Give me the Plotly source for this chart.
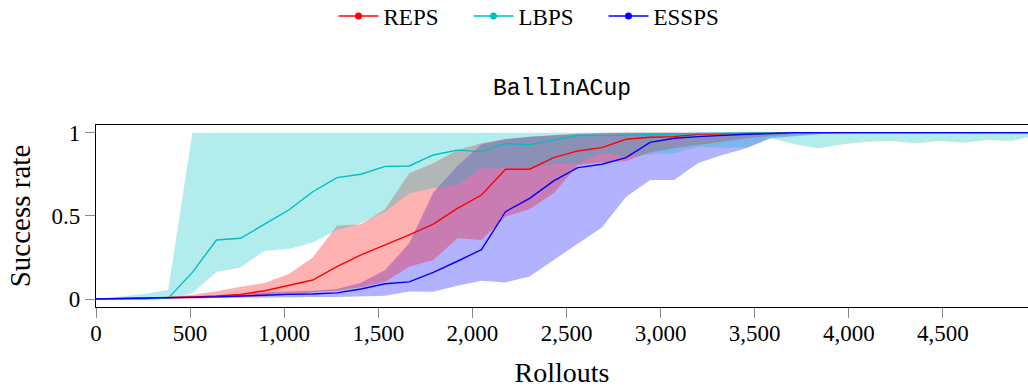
import plotly.graph_objects as go

step = 128
n_points = 40
rollouts = [step * i for i in range(n_points)]

reps_mean = [0, 0.002, 0.004, 0.008, 0.012, 0.018, 0.028, 0.05, 0.08, 0.114,
             0.195, 0.265, 0.325, 0.385, 0.45, 0.545, 0.625, 0.78, 0.78, 0.85,
             0.89, 0.91, 0.96, 0.972, 0.976, 0.99, 0.993, 0.996, 0.998, 1.0,
             1.0, 1.0, 1.0, 1.0, 1.0, 1.0, 1.0, 1.0, 1.0, 1.0]
reps_upper = [0, 0.004, 0.008, 0.012, 0.025, 0.046, 0.074, 0.096, 0.15, 0.25,
              0.44, 0.45, 0.54, 0.756, 0.816, 0.896, 0.936, 0.962, 0.976, 0.986,
              0.995, 1.0, 1.0, 1.0, 1.0, 1.0, 1.0, 1.0, 1.0, 1.0,
              1.0, 1.0, 1.0, 1.0, 1.0, 1.0, 1.0, 1.0, 1.0, 1.0]
reps_lower = [0, 0, 0, 0, 0.002, 0.005, 0.01, 0.015, 0.025, 0.04,
              0.05, 0.07, 0.104, 0.194, 0.234, 0.365, 0.355, 0.495, 0.541, 0.636,
              0.806, 0.82, 0.83, 0.88, 0.906, 0.926, 0.945, 0.966, 0.976, 0.99,
              1.0, 1.0, 1.0, 1.0, 1.0, 1.0, 1.0, 1.0, 1.0, 1.0]

lbps_mean = [0, 0, 0, 0.005, 0.16, 0.355, 0.365, 0.45, 0.535, 0.645,
             0.73, 0.75, 0.797, 0.80, 0.866, 0.895, 0.886, 0.934, 0.928, 0.955,
             0.984, 0.982, 0.986, 0.99, 0.993, 0.995, 0.997, 0.998, 1.0, 1.0,
             1.0, 1.0, 1.0, 1.0, 1.0, 1.0, 1.0, 1.0, 1.0, 1.0]
lbps_upper = [0, 0.015, 0.03, 0.054, 1.0, 1.0, 1.0, 1.0, 1.0, 1.0,
              1.0, 1.0, 1.0, 1.0, 1.0, 1.0, 1.0, 1.0, 1.0, 1.0,
              1.0, 1.0, 1.0, 1.0, 1.0, 1.0, 1.0, 1.0, 1.0, 1.0,
              1.0, 1.0, 1.0, 1.0, 1.0, 1.0, 1.0, 1.0, 1.0, 1.0]
lbps_lower = [0, 0, 0, 0, 0.034, 0.162, 0.19, 0.29, 0.30, 0.34,
              0.415, 0.455, 0.525, 0.635, 0.666, 0.686, 0.786, 0.786, 0.79, 0.81,
              0.816, 0.876, 0.856, 0.87, 0.876, 0.916, 0.91, 0.912, 0.966, 0.93,
              0.906, 0.93, 0.946, 0.95, 0.936, 0.95, 0.94, 0.956, 0.95, 0.982]

essps_mean = [0, 0.002, 0.004, 0.006, 0.01, 0.013, 0.018, 0.025, 0.028, 0.03,
              0.037, 0.06, 0.092, 0.103, 0.16, 0.227, 0.297, 0.525, 0.605, 0.71,
              0.79, 0.81, 0.85, 0.942, 0.966, 0.976, 0.985, 0.99, 0.995, 1.0,
              1.0, 1.0, 1.0, 1.0, 1.0, 1.0, 1.0, 1.0, 1.0, 1.0]
essps_upper = [0, 0.004, 0.008, 0.012, 0.016, 0.02, 0.03, 0.04, 0.045, 0.05,
               0.06, 0.098, 0.174, 0.335, 0.64, 0.80, 0.93, 0.96, 0.975, 0.985,
               0.99, 0.995, 1.0, 1.0, 1.0, 1.0, 1.0, 1.0, 1.0, 1.0,
               1.0, 1.0, 1.0, 1.0, 1.0, 1.0, 1.0, 1.0, 1.0, 1.0]
essps_lower = [0, 0, 0, 0, 0.002, 0.004, 0.006, 0.008, 0.01, 0.012,
               0.012, 0.015, 0.02, 0.045, 0.044, 0.08, 0.11, 0.10, 0.135, 0.235,
               0.335, 0.43, 0.613, 0.716, 0.716, 0.818, 0.866, 0.906, 0.966, 0.98,
               0.99, 1.0, 1.0, 1.0, 1.0, 1.0, 1.0, 1.0, 1.0, 1.0]

x_ticks = [0, 500, 1000, 1500, 2000, 2500, 3000, 3500, 4000, 4500]
x_tick_labels = ["0", "500", "1,000", "1,500", "2,000", "2,500", "3,000", "3,500", "4,000", "4,500"]
y_ticks = [0, 0.5, 1]
y_tick_labels = ["0", "0.5", "1"]

series = [
    ("REPS", reps_mean, reps_lower, reps_upper, "rgb(255,0,0)", "rgba(255,0,0,0.3)"),
    ("LBPS", lbps_mean, lbps_lower, lbps_upper, "rgb(0,191,191)", "rgba(0,191,191,0.3)"),
    ("ESSPS", essps_mean, essps_lower, essps_upper, "rgb(0,0,255)", "rgba(0,0,255,0.3)"),
]

fig = go.Figure()

# bands: ESSPS first, then REPS, then LBPS
for idx in [2, 0, 1]:
    name, mean, lo, up, col, fcol = series[idx]
    fig.add_trace(go.Scatter(
        x=rollouts + rollouts[::-1], y=up + lo[::-1],
        fill="toself", fillcolor=fcol, mode="lines", line=dict(width=0),
        hoverinfo="skip", showlegend=False))

for name, mean, lo, up, col, fcol in series:
    fig.add_trace(go.Scatter(x=rollouts, y=mean, mode="lines",
                             line=dict(color=col, width=1.4), showlegend=False, name=name))

for name, mean, lo, up, col, fcol in series:
    fig.add_trace(go.Scatter(x=[None], y=[None], mode="lines+markers", name=name,
                             line=dict(color=col, width=1.5),
                             marker=dict(color=col, size=7)))

serif = "Liberation Serif"
fig.update_layout(
    width=1028, height=391,
    margin=dict(l=96, r=0, t=125, b=84),
    paper_bgcolor="white", plot_bgcolor="white",
    font=dict(family=serif, size=22, color="black"),
    title=dict(text="BallInACup", font=dict(family="Liberation Mono", size=23, color="black"),
               xref="paper", x=0.5, xanchor="center",
               yref="container", y=1 - 87 / 391, yanchor="middle"),
    legend=dict(orientation="h", xref="container", yref="container",
                x=536 / 1028, xanchor="center", y=1 - 16 / 391, yanchor="middle",
                font=dict(family=serif, size=23), bgcolor="rgba(0,0,0,0)",
                itemwidth=40, entrywidth=80, tracegroupgap=0),
    showlegend=True,
)
fig.update_xaxes(range=[0, 4952], tickmode="array", tickvals=x_ticks, ticktext=x_tick_labels,
                 showgrid=False, zeroline=False, showline=True, linecolor="black", linewidth=1.2,
                 mirror=True, ticks="outside", ticklen=10, tickcolor="#888", tickwidth=1,
                 ticklabelstandoff=-5,
                 tickfont=dict(family=serif, size=23),
                 title=dict(text="Rollouts", font=dict(family=serif, size=28), standoff=17))
fig.update_yaxes(range=[-0.048, 1.046], tickmode="array", tickvals=y_ticks, ticktext=y_tick_labels,
                 showgrid=False, zeroline=False, showline=True, linecolor="black", linewidth=1.2,
                 mirror=False, ticks="outside", ticklen=10, tickcolor="#888", tickwidth=1,
                 tickfont=dict(family=serif, size=23),
                 title=dict(text="Success rate", font=dict(family=serif, size=29), standoff=12))

fig.write_html("out.html")
